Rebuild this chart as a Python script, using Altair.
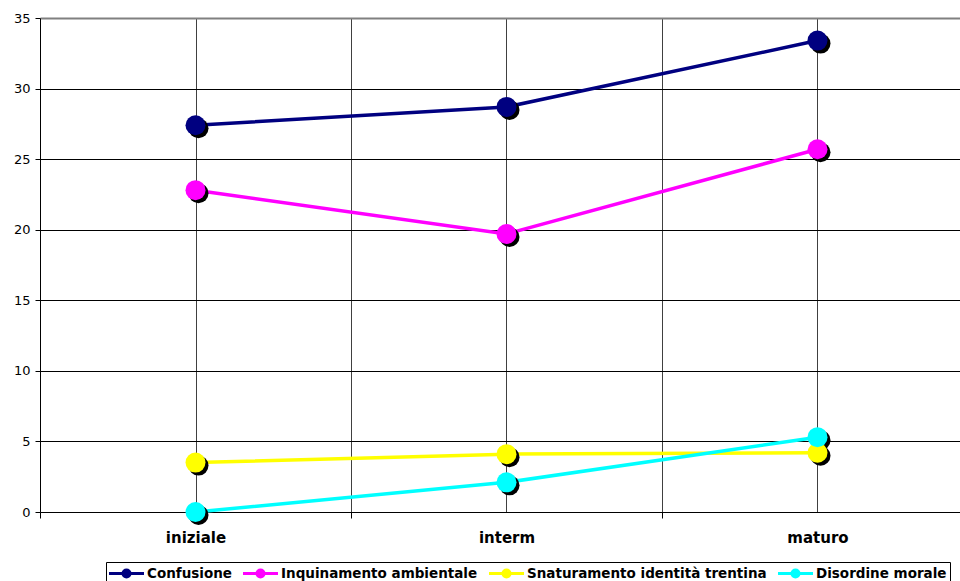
import altair as alt
import pandas as pd

# Stages on the horizontal axis and the four survey series
categories = ["iniziale", "interm", "maturo"]
series = [
    "Confusione",
    "Inquinamento ambientale",
    "Snaturamento identità trentina",
    "Disordine morale",
]
confusione = [27.4, 28.7, 33.4]
inquinamento = [22.8, 19.7, 25.7]
snaturamento = [3.5, 4.1, 4.2]
disordine = [0.0, 2.1, 5.3]
colors = ["#000080", "#FF00FF", "#FFFF00", "#00FFFF"]
y_ticks = [0, 5, 10, 15, 20, 25, 30, 35]

# Each stage takes two units of the x scale, its point sits in the middle
rows = []
for name, vals in zip(series, [confusione, inquinamento, snaturamento, disordine]):
    for i, (cat, v) in enumerate(zip(categories, vals)):
        rows.append({"serie": name, "stadio": cat, "pos": 2 * i + 1, "valore": v})
df = pd.DataFrame(rows)

label_expr = " : ".join(
    f"datum.value == {2 * i + 1} ? '{c}'" for i, c in enumerate(categories)
) + " : ''"

FONT = "DejaVu Sans"

x = alt.X(
    "pos:Q",
    scale=alt.Scale(domain=[0, 920 / 155.5], nice=False, zero=False),
    axis=alt.Axis(
        values=[0, 1, 2, 3, 4, 5],
        labelExpr=label_expr,
        title=None,
        tickSize=6,
        tickColor="black",
        tickOpacity={"condition": {"test": "datum.value % 2 == 0", "value": 1}, "value": 0},
        grid=True,
        gridColor="#404040",
        gridOpacity={"condition": {"test": "datum.value == 0", "value": 0}, "value": 1},
        domainColor="black",
        labelFont=FONT,
        labelFontSize=15,
        labelFontWeight="bold",
        labelColor="black",
        labelPadding=12,
        labelBaseline="top",
    ),
)
y = alt.Y(
    "valore:Q",
    scale=alt.Scale(domain=[0, 35], nice=False),
    axis=alt.Axis(
        values=y_ticks,
        title=None,
        tickSize=5,
        tickColor="black",
        grid=True,
        gridColor={"condition": {"test": "datum.value == 35", "value": "#808080"}, "value": "black"},
        gridWidth={"condition": {"test": "datum.value == 35", "value": 2}, "value": 1},
        domainColor="black",
        labelFont=FONT,
        labelFontSize=13,
        labelColor="black",
        labelPadding=5,
    ),
)

scale = alt.Scale(domain=series, range=colors)

# Legend glyph: a short line with a dot built from stroked rings
glyph = (
    "M-2.5,0H2.5"
    "M0.5,0A0.5,0.5,0,1,1,-0.5,0A0.5,0.5,0,1,1,0.5,0"
    "M0.25,0A0.25,0.25,0,1,1,-0.25,0A0.25,0.25,0,1,1,0.25,0"
    "M0.05,0A0.05,0.05,0,1,1,-0.05,0A0.05,0.05,0,1,1,0.05,0"
)

legend = alt.Legend(
    title=None,
    orient="none",
    legendX=66,
    legendY=544,
    direction="horizontal",
    symbolType=glyph,
    symbolSize=196,
    symbolStrokeWidth=3,
    symbolOffset=9,
    labelOffset=12,
    labelLimit=0,
    labelFont=FONT,
    labelFontSize=13.5,
    labelFontWeight="bold",
    labelColor="black",
    columnPadding=5,
    padding=3,
    strokeColor="black",
    fillColor="white",
)

base = alt.Chart(df).encode(x=x, y=y)

lines = base.mark_line(strokeWidth=3.5).encode(
    color=alt.Color("serie:N", scale=scale, legend=legend)
)
shadows = base.mark_circle(size=400, opacity=1, color="black", xOffset=3, yOffset=3).encode(
    detail="serie:N"
)
points = base.mark_circle(size=400, opacity=1).encode(
    color=alt.Color("serie:N", scale=scale, legend=legend)
)

chart = (
    alt.layer(lines, shadows, points)
    .properties(
        width=920,
        height=494,
        autosize=alt.AutoSizeParams(type="none"),
        padding={"left": 40, "top": 18, "right": 0, "bottom": 69},
        background="white",
    )
    .configure_view(stroke=None)
)

chart.save("out.html", embed_options={"renderer": "svg", "actions": False})
